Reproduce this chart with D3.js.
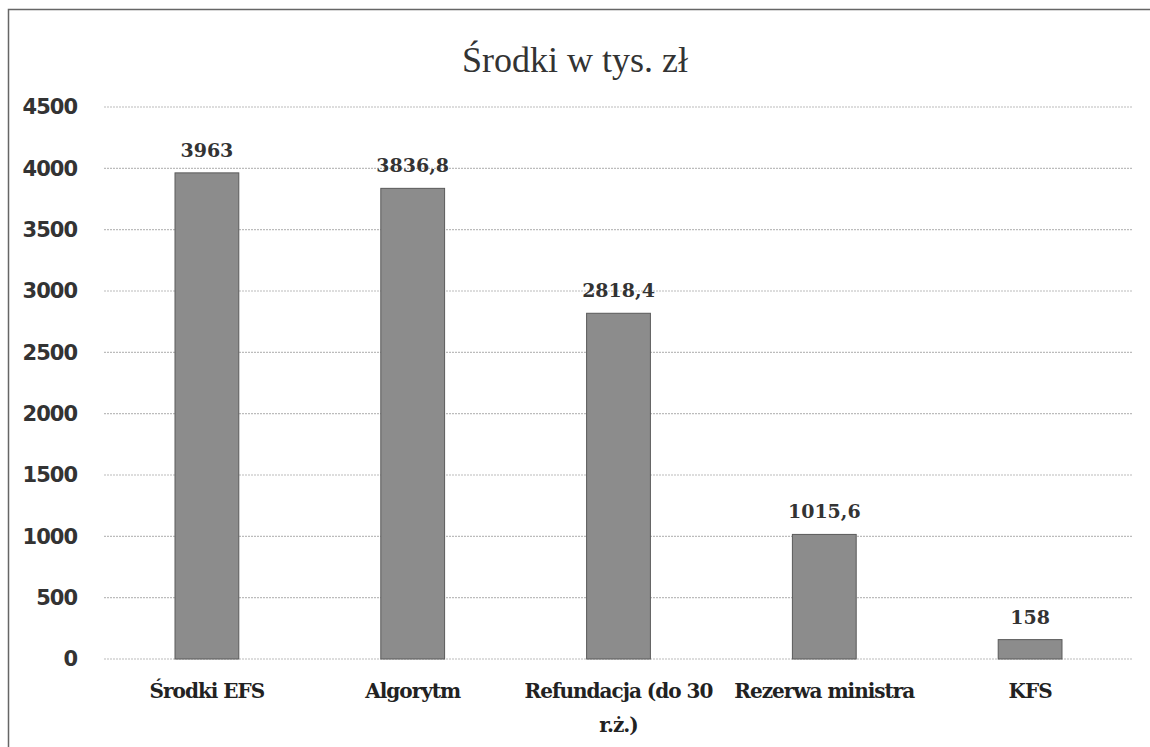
<!DOCTYPE html>
<html>
<head>
<meta charset="utf-8">
<script src="https://cdn.jsdelivr.net/npm/d3@7"></script>
<style>
  body { margin: 0; background: #fff; }
</style>
</head>
<body>
<script>
// dane z wykresu
const categories = ["Środki EFS", "Algorytm", "Refundacja (do 30 r.ż.)", "Rezerwa ministra", "KFS"];
const values = [3963, 3836.8, 2818.4, 1015.6, 158];
const valueLabels = ["3963", "3836,8", "2818,4", "1015,6", "158"];
const yTicks = [0, 500, 1000, 1500, 2000, 2500, 3000, 3500, 4000, 4500];
const xLabelLines = [["Środki EFS"], ["Algorytm"], ["Refundacja (do 30", "r.ż.)"], ["Rezerwa ministra"], ["KFS"]];

const width = 1150, height = 747;
const margin = {left: 104, right: 17, top: 107, bottom: 88};

const svg = d3.select("body")
              .append("svg")
              .attr("width", width)
              .attr("height", height);

// ramka
svg.append("path")
   .attr("d", "M8.5,747 V9.5 H1150")
   .attr("fill", "none")
   .attr("stroke", "#666")
   .attr("stroke-width", 1.5);

const x = d3.scaleBand()
            .domain(categories)
            .range([margin.left, width - margin.right])
            .paddingInner(0.69)
            .paddingOuter(0.345);

const y = d3.scaleLinear()
            .domain([0, 4500])
            .range([height - margin.bottom, margin.top]);

// siatka
svg.append("g")
   .selectAll("line")
   .data(yTicks)
   .enter()
     .append("line")
     .attr("x1", margin.left)
     .attr("x2", width - margin.right)
     .attr("y1", d => y(d))
     .attr("y2", d => y(d))
     .attr("stroke", "#bcbcbc")
     .attr("stroke-width", 1.2)
     .attr("stroke-dasharray", "2,1");

// oś Y
const yAxis = svg.append("g")
   .attr("transform", `translate(${margin.left - 24},0)`)
   .call(d3.axisLeft(y).tickValues(yTicks).tickSize(0).tickFormat(d3.format("d")));
yAxis.select(".domain").remove();
yAxis.selectAll("text")
     .attr("font-family", "'DejaVu Sans', sans-serif")
     .attr("font-weight", "bold")
     .attr("font-size", 21)
     .attr("letter-spacing", -1)
     .attr("fill", "#333");

// słupki
svg.append("g")
   .selectAll("rect")
   .data(values)
   .enter()
     .append("rect")
     .attr("x", (d, i) => x(categories[i]))
     .attr("y", d => y(d))
     .attr("width", x.bandwidth())
     .attr("height", d => y(0) - y(d))
     .attr("fill", "#8c8c8c")
     .attr("stroke", "#5a5a5a")
     .attr("stroke-width", 1);

// etykiety wartości
svg.append("g")
   .selectAll("text")
   .data(values)
   .enter()
     .append("text")
     .attr("x", (d, i) => x(categories[i]) + x.bandwidth() / 2)
     .attr("y", d => y(d) - 16)
     .attr("text-anchor", "middle")
     .attr("font-family", "'DejaVu Serif', serif")
     .attr("font-weight", "bold")
     .attr("font-size", 19)
     .attr("fill", "#333")
     .text((d, i) => valueLabels[i]);

// etykiety kategorii
const xl = svg.append("g")
   .selectAll("text")
   .data(categories)
   .enter()
     .append("text")
     .attr("x", d => x(d) + x.bandwidth() / 2)
     .attr("y", y(0) + 39)
     .attr("text-anchor", "middle")
     .attr("font-family", "'DejaVu Serif', serif")
     .attr("font-weight", "bold")
     .attr("font-size", 20)
     .attr("letter-spacing", -1)
     .attr("fill", "#222");
xl.each(function(d, i) {
  d3.select(this).selectAll("tspan")
    .data(xLabelLines[i])
    .enter()
      .append("tspan")
      .attr("x", x(d) + x.bandwidth() / 2)
      .attr("dy", (t, j) => j === 0 ? 0 : 34)
      .text(t => t);
});

// tytuł
svg.append("text")
   .attr("x", 575)
   .attr("y", 72)
   .attr("text-anchor", "middle")
   .attr("font-family", "'Liberation Serif', serif")
   .attr("font-size", 36)
   .attr("fill", "#333")
   .text("Środki w tys. zł");
</script>
</body>
</html>
